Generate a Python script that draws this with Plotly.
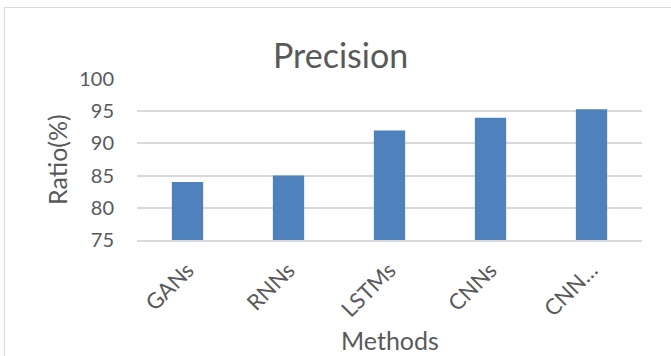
import plotly.graph_objects as go

# Precision of each method (%)
methods = ["GANs", "RNNs", "LSTMs", "CNNs", "CNN…"]
precision = [84, 85, 92, 94, 95.3]
y_ticks = [75, 80, 85, 90, 95, 100]

W, H = 671, 356
ML, MR, MT, MB = 137, 29, 79, 116
PW, PH = W - ML - MR, H - MT - MB

FONT = "Lato, 'Open Sans', sans-serif"
GREY_TEXT = "#595959"
GRID = "#d9d9d9"


def px_x(px):
    return (px - ML) / PW


def px_y(py):
    return 1 - (py - MT) / PH


fig = go.Figure(
    go.Bar(
        x=methods,
        y=precision,
        marker=dict(color="#4f81bd", line=dict(width=0)),
        width=0.31,
        hoverinfo="x+y",
    )
)

fig.update_layout(
    width=W,
    height=H,
    margin=dict(l=ML, r=MR, t=MT, b=MB),
    paper_bgcolor="white",
    plot_bgcolor="white",
    showlegend=False,
    font=dict(family=FONT, color=GREY_TEXT, size=20),
    xaxis=dict(
        tickangle=-45,
        tickfont=dict(size=22, color=GREY_TEXT),
        showgrid=False,
        showline=True,
        linecolor=GRID,
        linewidth=1.5,
        ticks="",
        ticklabelstandoff=7,
    ),
    yaxis=dict(
        range=[75, 100],
        tickvals=y_ticks,
        tickfont=dict(size=20, color=GREY_TEXT),
        showgrid=True,
        gridcolor=GRID,
        gridwidth=1.5,
        zeroline=False,
        showline=False,
        ticks="",
        ticklabelstandoff=22,
    ),
    shapes=[
        # outer chart frame
        dict(
            type="rect",
            xref="paper",
            yref="paper",
            x0=px_x(4.5),
            x1=px_x(690),
            y0=px_y(380),
            y1=px_y(7.5),
            line=dict(color="#d9d9d9", width=1.2),
            fillcolor="rgba(0,0,0,0)",
            layer="below",
        )
    ],
    annotations=[
        dict(
            text="Precision",
            xref="paper",
            yref="paper",
            x=px_x(340),
            y=px_y(55),
            xanchor="center",
            yanchor="middle",
            showarrow=False,
            font=dict(size=34, color=GREY_TEXT, family=FONT),
        ),
        dict(
            text="Ratio(%)",
            xref="paper",
            yref="paper",
            x=px_x(57),
            y=px_y(160),
            xanchor="center",
            yanchor="middle",
            textangle=-90,
            showarrow=False,
            font=dict(size=25, color=GREY_TEXT, family=FONT),
        ),
        dict(
            text="Methods",
            xref="paper",
            yref="paper",
            x=px_x(390),
            y=px_y(340),
            xanchor="center",
            yanchor="middle",
            showarrow=False,
            font=dict(size=25, color=GREY_TEXT, family=FONT),
        ),
    ],
)

fig.write_html("out.html")
